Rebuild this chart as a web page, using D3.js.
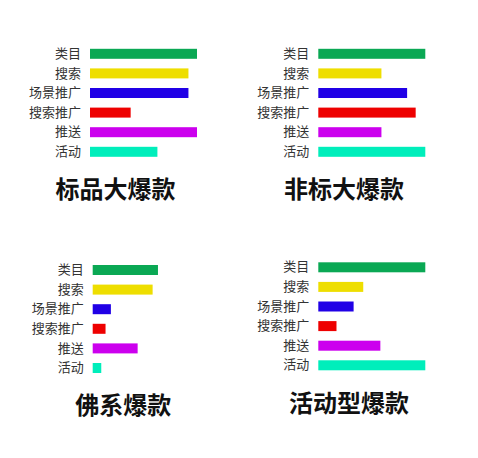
<!DOCTYPE html>
<html>
<head>
<meta charset="utf-8">
<script src="https://cdn.jsdelivr.net/npm/d3@7"></script>
<style>
  body { margin: 0; background: #fff; }
  svg { display: block; font-family: "Noto Sans CJK SC", "Noto Sans", sans-serif; }
  .domain { display: none; }
</style>
</head>
<body>
<div id="chart"></div>
<script>
(() => {

    ////////////// data ////////////////

    // same six channels in every panel
    const categories = ['类目', '搜索', '场景推广', '搜索推广', '推送', '活动']

    // panel titles
    const titles = ['标品大爆款', '非标大爆款', '佛系爆款', '活动型爆款']

    // relative weights (0-100)
    const biaopinValues = [100, 92, 92, 38, 100, 63]
    const feibiaoValues = [100, 59, 83, 91, 59, 100]
    const foxiValues = [61, 56, 17, 12, 42, 8]
    const huodongValues = [100, 42, 33, 17, 58, 100]

    const colors = ['#0aa854', '#eede00', '#2000e6', '#ee0000', '#cc00ee', '#00eebb']

    ////////////// SVG Setup /////////////

    const svgWidth = 478
    const svgHeight = 458

    const svg = d3.select('#chart')
        .append('svg')
        .attr('width', svgWidth)
        .attr('height', svgHeight)

    // where each small chart sits: left edge of bars, top of band range, title centre + baseline
    const panels = [
        { values: biaopinValues, x: 90, y: 44, titleX: 115.5, titleY: 197.5 },
        { values: feibiaoValues, x: 318.3, y: 44, titleX: 344, titleY: 198 },
        { values: foxiValues, x: 92.7, y: 260.2, titleX: 123.3, titleY: 414 },
        { values: huodongValues, x: 318.3, y: 257.5, titleX: 349, titleY: 411.5 }
    ]

    const barWidth = 107
    const step = 19.6

    panels.forEach((p, i) => {
        const g = svg.append('g')
            .attr('transform', 'translate(' + p.x + ',' + p.y + ')')

        const xScale = d3.scaleLinear()
            .domain([0, 100])
            .range([0, barWidth])

        const yScale = d3.scaleBand()
            .domain(categories)
            .range([0, step * categories.length])
            .paddingInner(0.49)
            .paddingOuter(0.245)

        const data = categories.map((c, j) => ({ cat: c, value: p.values[j], color: colors[j] }))

        g.selectAll('.bar')
            .data(data)
            .join('rect')
            .attr('class', 'bar')
            .attr('x', 0)
            .attr('y', d => yScale(d.cat))
            .attr('width', d => xScale(d.value))
            .attr('height', yScale.bandwidth())
            .attr('fill', d => d.color)

        // category labels, axis line hidden
        g.append('g')
            .call(d3.axisLeft(yScale).tickSize(0).tickPadding(9))
            .call(a => a.selectAll('text')
                .attr('fill', '#333')
                .style('font-size', '13px')
                .style('font-family', '"Noto Sans CJK SC", sans-serif'))

        svg.append('text')
            .attr('x', p.titleX)
            .attr('y', p.titleY)
            .attr('text-anchor', 'middle')
            .attr('font-size', 24)
            .attr('font-weight', 'bold')
            .attr('fill', '#111')
            .text(titles[i])
    })

})()
</script>
</body>
</html>
